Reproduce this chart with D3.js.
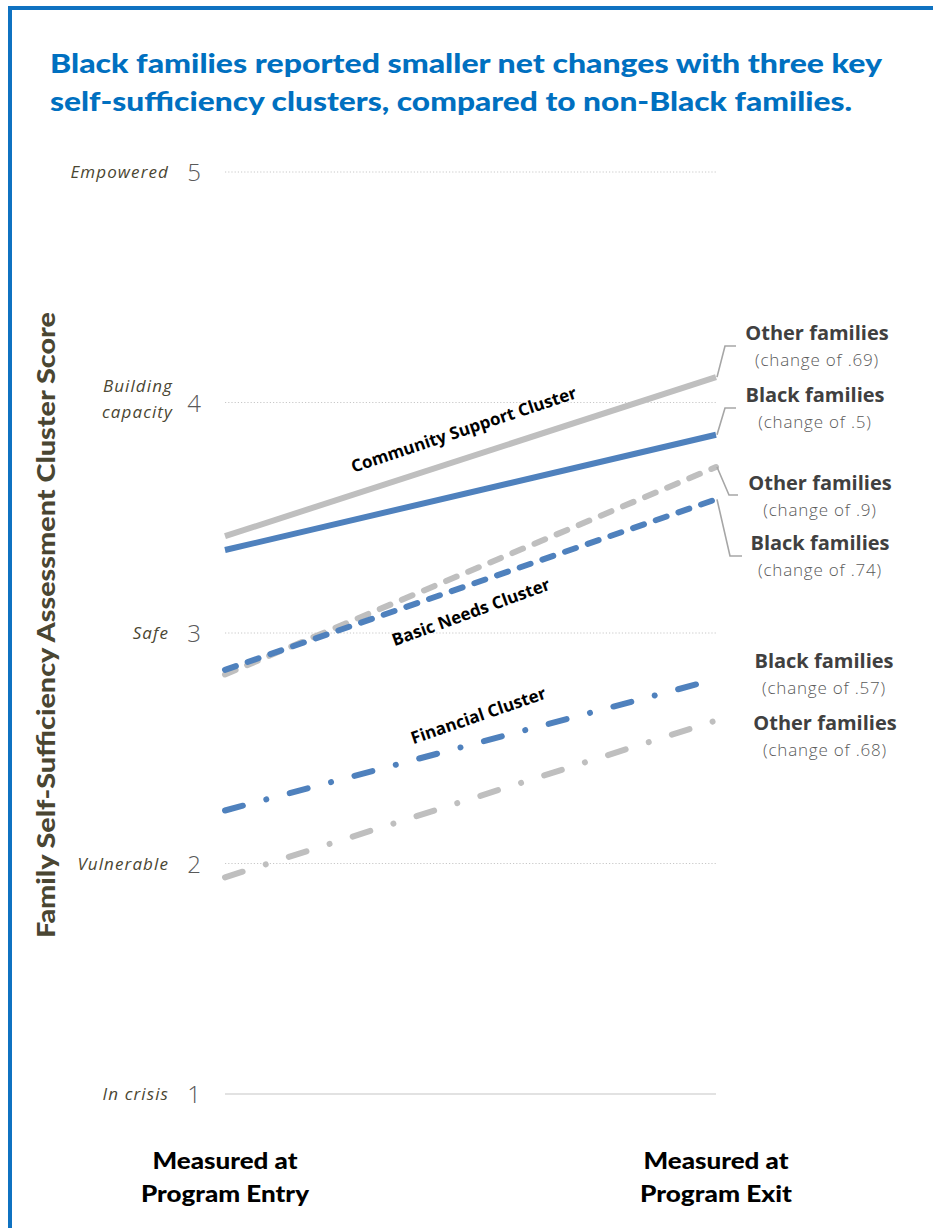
<!DOCTYPE html>
<html>
<head>
<meta charset="utf-8">
<script src="https://cdn.jsdelivr.net/npm/d3@7"></script>
<style>
  html, body { margin: 0; padding: 0; background: #ffffff; }
  svg { display: block; font-family: Lato, sans-serif; }
</style>
</head>
<body>
<svg id="chart" width="933" height="1228"></svg>
<script>
// ---- Data -------------------------------------------------------------
const stages = ["Program Entry", "Program Exit"];
const stageLabels = [["Measured at", "Program Entry"], ["Measured at", "Program Exit"]];
const clusters = ["Community Support Cluster", "Basic Needs Cluster", "Financial Cluster"];

// Average cluster scores [entry, exit]
const communityBlack = [3.36, 3.86];
const communityOther = [3.42, 4.11];
const basicBlack     = [2.84, 3.58];
const basicOther     = [2.82, 3.72];
const financialBlack = [2.23, 2.80];
const financialOther = [1.94, 2.62];

const tickValues = [1, 2, 3, 4, 5];
const tickNames  = [["In crisis"], ["Vulnerable"], ["Safe"], ["Building", "capacity"], ["Empowered"]];

const titleLines = [
  "Black families reported smaller net changes with three key",
  "self-sufficiency clusters, compared to non-Black families."
];
const yTitle = "Family Self-Sufficiency Assessment Cluster Score";

// ---- Setup ------------------------------------------------------------
const svg = d3.select("#chart");
const BLUE = "#4F81BD", GRAY = "#BFBFBF";
const DARK = "#404040", SUB = "#595959", OLIVE = "#4A4632";
const SANS = "'Open Sans', sans-serif";
const LATO = "Lato, sans-serif";

const x = d3.scalePoint().domain(stages).range([225, 716]);
const y = d3.scaleLinear().domain([1, 5]).range([1094, 172]);

// Frame: blue rule across the top and down the left side
svg.append("path")
  .attr("d", "M10,1228 V8 H933")
  .attr("fill", "none")
  .attr("stroke", "#0F72C1")
  .attr("stroke-width", 4);

// Title
const title = svg.append("g");
titleLines.forEach((t, i) => {
  title.append("text")
    .attr("x", 50).attr("y", 73 + i * 38)
    .attr("fill", "#0070C0")
    .style("font-family", LATO)
    .attr("font-size", 27).attr("font-weight", 900)
    .attr("textLength", i === 0 ? 832 : 802)
    .attr("lengthAdjust", "spacingAndGlyphs")
    .text(t);
});

// Gridlines
const grid = svg.append("g");
tickValues.forEach(v => {
  grid.append("line")
    .attr("x1", x.range()[0]).attr("x2", x.range()[1])
    .attr("y1", y(v)).attr("y2", y(v))
    .attr("stroke", v === 1 ? "#D9D9D9" : "#C8C8C8")
    .attr("stroke-width", v === 1 ? 1.6 : 1)
    .attr("stroke-dasharray", v === 1 ? null : "1.2,2");
});

// Y axis: numeric ticks plus the named levels
const yAxis = d3.axisLeft(y).tickValues(tickValues).tickSize(0).tickPadding(0)
  .tickFormat(d3.format("d"));
const yg = svg.append("g").attr("transform", "translate(201,0)").call(yAxis);
yg.select(".domain").remove();
yg.selectAll("text")
  .style("font-family", SANS)
  .attr("font-weight", 300)
  .attr("font-size", 24)
  .attr("fill", "#595959")
  .attr("dy", "0.36em");

tickValues.forEach((v, i) => {
  const lines = tickNames[i];
  const t = svg.append("text")
    .attr("text-anchor", "end")
    .style("font-family", SANS)
    .attr("font-style", "italic")
    .attr("font-size", 17)
    .attr("letter-spacing", 1.1)
    .attr("fill", OLIVE);
  lines.forEach((ln, j) => {
    t.append("tspan")
      .attr("x", lines.length > 1 ? 173 : 169)
      .attr("y", y(v) + 6 + (j - (lines.length - 1) / 2) * 26 - (lines.length > 1 ? 4 : 0))
      .text(ln);
  });
});

// Y axis title
svg.append("text")
  .attr("transform", `translate(55,${(312 + 938) / 2}) rotate(-90)`)
  .attr("text-anchor", "middle")
  .style("font-family", LATO)
  .attr("font-size", 24).attr("font-weight", 900)
  .attr("fill", OLIVE)
  .attr("textLength", 626).attr("lengthAdjust", "spacingAndGlyphs")
  .text(yTitle);

// Stage labels under the plot
stages.forEach((s, i) => {
  const widths = [[145, 168], [145, 152]][i];
  stageLabels[i].forEach((ln, j) => {
    svg.append("text")
      .attr("x", x(s)).attr("y", 1169 + j * 33)
      .attr("text-anchor", "middle")
      .style("font-family", LATO)
      .attr("font-size", 23).attr("font-weight", 900)
      .attr("fill", "#000")
      .attr("textLength", widths[j]).attr("lengthAdjust", "spacingAndGlyphs")
      .text(ln);
  });
});

// ---- Lines --------------------------------------------------------------
const series = [
  { cluster: 0, group: "Other families", values: communityOther, color: GRAY, dash: null },
  { cluster: 0, group: "Black families", values: communityBlack, color: BLUE, dash: null },
  { cluster: 1, group: "Other families", values: basicOther,     color: GRAY, dash: "11.5,12.5" },
  { cluster: 1, group: "Black families", values: basicBlack,     color: BLUE, dash: "11.5,12.5" },
  { cluster: 2, group: "Other families", values: financialOther, color: GRAY, dash: "18.5,24.25,0.01,24.25" },
  { cluster: 2, group: "Black families", values: financialBlack, color: BLUE, dash: "18.5,24.25,0.01,24.25" }
];

const line = d3.line().x((d, i) => x(stages[i])).y(d => y(d));

svg.append("g").selectAll("path")
  .data(series)
  .join("path")
  .attr("d", d => line(d.values))
  .attr("fill", "none")
  .attr("stroke", d => d.color)
  .attr("stroke-width", 6)
  .attr("stroke-linecap", d => d.dash ? "round" : "butt")
  .attr("stroke-dasharray", d => d.dash);

// Cluster names written along their lines
const clusterLabelLayout = [
  { series: 0, t: 0.49, offset: -23, angle: -18.5 },
  { series: 3, t: 0.505, offset: 34, angle: -20 },
  { series: 5, t: 0.52, offset: -21, angle: -19 }
];
clusterLabelLayout.forEach((c, k) => {
  const s = series[c.series];
  const px = x(stages[0]) + c.t * (x(stages[1]) - x(stages[0]));
  const py = y(s.values[0]) + c.t * (y(s.values[1]) - y(s.values[0])) + c.offset;
  svg.append("text")
    .attr("transform", `translate(${px},${py}) rotate(${c.angle})`)
    .attr("text-anchor", "middle")
    .style("font-family", SANS)
    .attr("font-size", 17).attr("font-weight", 700)
    .attr("fill", "#000")
    .text(clusters[k]);
});

// ---- End-of-line annotations ------------------------------------------------
const fmtChange = v => "(change of " + d3.format(".2~f")(v).replace(/^0/, "") + ")";
const annotations = [
  { series: 0, cx: 817, top: 340, leader: [[725, 346], [736, 346]] },
  { series: 1, cx: 815, top: 402, leader: [[725, 408], [736, 408]] },
  { series: 2, cx: 820, top: 490, leader: [[729, 495], [738, 495]] },
  { series: 3, cx: 820, top: 550, leader: [[730, 556], [742, 556]] },
  { series: 5, cx: 824, top: 668, leader: null },
  { series: 4, cx: 825, top: 730, leader: null }
];

annotations.forEach(a => {
  const s = series[a.series];
  if (a.leader) {
    const start = [x(stages[1]) + 1, y(s.values[1])];
    svg.append("path")
      .attr("d", d3.line()([start, ...a.leader]))
      .attr("fill", "none")
      .attr("stroke", "#A6A6A6")
      .attr("stroke-width", 1.6);
  }
  svg.append("text")
    .attr("x", a.cx).attr("y", a.top)
    .attr("text-anchor", "middle")
    .style("font-family", SANS)
    .attr("font-size", 20).attr("font-weight", 700)
    .attr("fill", DARK)
    .text(s.group);
  svg.append("text")
    .attr("x", a.cx).attr("y", a.top + 26)
    .attr("text-anchor", "middle")
    .style("font-family", SANS)
    .attr("font-size", 17).attr("font-weight", 300)
    .attr("letter-spacing", 0.8)
    .attr("fill", SUB)
    .text(fmtChange(s.values[1] - s.values[0]));
});
</script>
</body>
</html>
